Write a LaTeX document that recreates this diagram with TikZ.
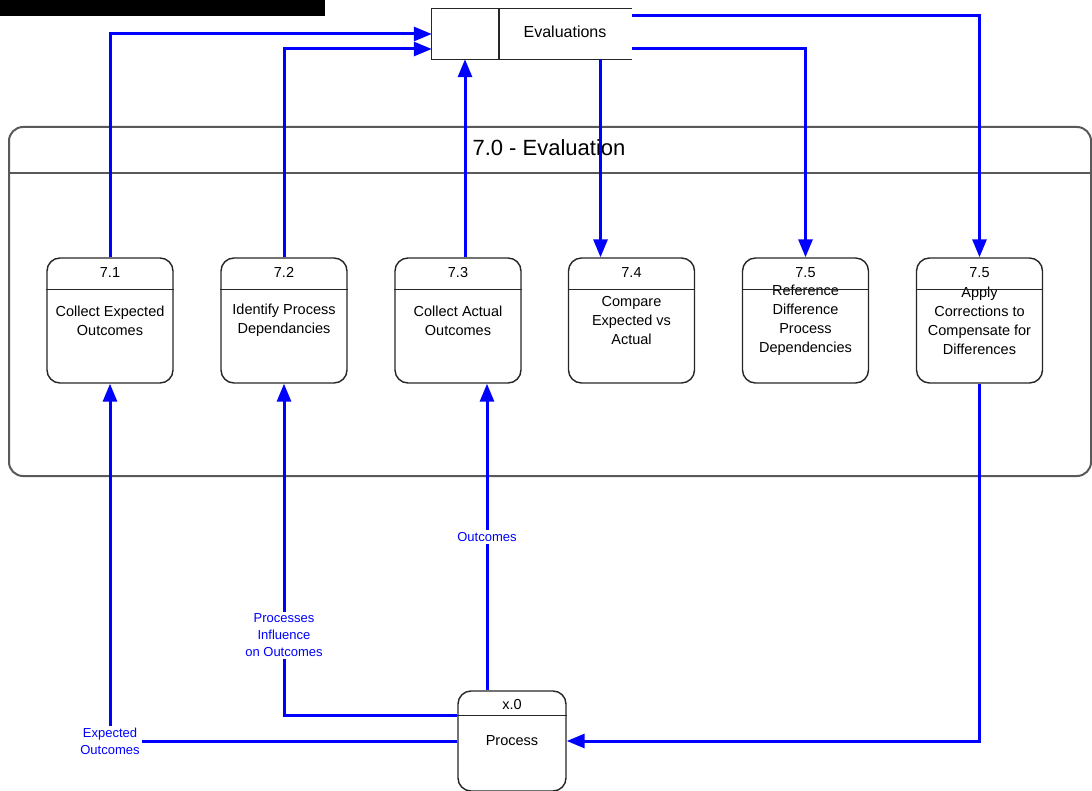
\documentclass[tikz,border=0pt]{standalone}
\usepackage{fontspec}
\setmainfont{Liberation Sans}
\usetikzlibrary{arrows.meta,positioning}

\tikzset{
  procbox/.style={draw=black!85, line width=1.4pt, rounded corners=13pt, minimum width=126pt,
    minimum height=125pt, align=center, inner sep=0pt, font=\fontsize{14.5}{19}\selectfont},
  numlabel/.style={inner sep=0pt, font=\fontsize{14.5}{17}\selectfont},
  flow/.style={draw=blue, line width=3pt, -{Triangle[length=18pt,width=14pt]}},
  flowlabel/.style={fill=white, text=blue, align=center, inner sep=2pt, font=\fontsize{13}{17}\selectfont},
}

\begin{document}
\begin{tikzpicture}[x=1pt,y=-1pt]
	\useasboundingbox (0,0) rectangle (1092,791);
	\fill (0,0) rectangle (325,16);												% Barra preta

	% Depósito de dados
	\node[minimum width=200pt, minimum height=50pt, inner sep=0pt] (store) at (532,34) {};
	\draw[line width=1.2pt, draw=black!85] (store.north east) -- (store.north west) -- (store.south west) -- (store.south east);
	\draw[line width=1.2pt, draw=black!85] (499,9) -- (499,59);
	\node[font=\fontsize{16}{18}\selectfont] (storelabel) at (565,32) {Evaluations};

	% Processo 7.0
	\draw[draw=black!65, line width=2pt, rounded corners=14pt] (9,127) rectangle (1091,476);
	\draw[draw=black!65, line width=1.5pt] (9,173) -- (1091,173);
	\node[font=\fontsize{22}{24}\selectfont] (title) at (549,148) {7.0 - Evaluation};

	% Subprocessos
	\node[procbox] (p71) at (110,320.5)  {Collect Expected\\Outcomes};
	\node[procbox] (p72) at (284,320.5)  {Identify Process\\Dependancies};
	\node[procbox] (p73) at (458,320.5)  {Collect Actual\\Outcomes};
	\node[procbox] (p74) at (631.5,320.5) {Compare\\Expected vs\\Actual};
	\node[procbox] (p75) at (805.5,320.5) {Reference\\Difference\\Process\\Dependencies};
	\node[procbox] (p76) at (979.5,320.5) {Apply\\Corrections to\\Compensate for\\Differences};
	\foreach \p/\n in {p71/7.1, p72/7.2, p73/7.3, p74/7.4, p75/7.5, p76/7.5} {
		\draw[line width=1.4pt, draw=black!85] ([yshift=-32pt]\p.north west) -- ([yshift=-32pt]\p.north east);
		\node[numlabel] (\p num) at ([yshift=-15pt]\p.north) {\n};
	}

	% Processo externo
	\node[procbox, minimum width=108pt, minimum height=100pt] (proc) at (512,741) {Process};
	\draw[line width=1.4pt, draw=black!85] ([yshift=-25pt]proc.north west) -- ([yshift=-25pt]proc.north east);
	\node[numlabel] (procnum) at ([yshift=-14pt]proc.north) {x.0};

	% Fluxos
	\draw[flow] (p71.north) |- (store.west);
	\draw[flow] (p72.north) |- ([yshift=-15pt]store.west);
	\draw[flow] ([xshift=7pt]p73.north) -- ([xshift=7pt]p73.north |- store.south);
	\draw[flow] ([xshift=-31pt]p74.north |- store.south) -- ([xshift=-31pt]p74.north);
	\draw[flow] ([yshift=-15pt]store.east) -| (p75.north);
	\draw[flow] ([yshift=18pt]store.east) -| (p76.north);
	\draw[flow] (p76.south) |- (proc.east);
	\draw[flow] ([xshift=-25pt]proc.north) -- node[flowlabel]{Outcomes} ([xshift=-25pt]proc.north |- p73.south);
	\draw[flow] ([yshift=26pt]proc.west) -| node[flowlabel, pos=0.62]{Processes\\Influence\\on Outcomes} (p72.south);
	\draw[flow] (proc.west) -| node[flowlabel, pos=0.5]{Expected\\Outcomes} (p71.south);
\end{tikzpicture}
\end{document}
